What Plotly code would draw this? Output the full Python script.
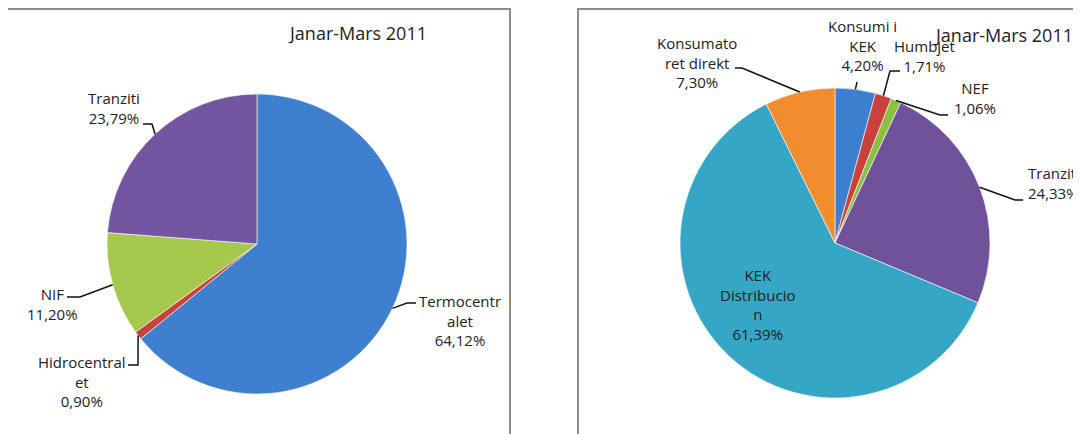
import math
import plotly.graph_objects as go

# ---------------- data ----------------
left_labels = ["Termocentralet", "Hidrocentralet", "NIF", "Tranziti"]
left_values = [64.12, 0.90, 11.20, 23.79]
left_text = ["Termocentr<br>alet<br>64,12%", "Hidrocentral<br>et<br>0,90%",
             "NIF<br>11,20%", "Tranziti<br>23,79%"]
left_colors = ["#3f7fcf", "#c8423c", "#a6c84c", "#7455a0"]

right_labels = ["Konsumi i KEK", "Humbjet", "NEF", "Tranziti",
                "KEK Distribucion", "Konsumatoret direkt"]
right_values = [4.20, 1.71, 1.06, 24.33, 61.39, 7.30]
right_text = ["Konsumi i<br>KEK<br>4,20%", "Humbjet<br>1,71%", "NEF<br>1,06%",
              "Tranziti<br>24,33%", "KEK<br>Distribucio<br>n<br>61,39%",
              "Konsumato<br>ret direkt<br>7,30%"]
right_colors = ["#3d7fcf", "#c8423c", "#8cc043", "#70529a", "#36a6c6", "#f08d2e"]

title_text = "Janar-Mars 2011"

# ---------------- layout helpers ----------------
W, H = 1081, 434
OFF = 8  # page body margin
FONT = "Open Sans"


def px(x):
    return (x - OFF) / W


def py(y):
    return 1 - (y - OFF) / H


def domain(cx, cy, r):
    return dict(x=[px(cx - r), px(cx + r)], y=[py(cy + r), py(cy - r)])


L_C, L_R = (257, 244), 150
R_C, R_R = (835, 243), 155

fig = go.Figure()
fig.add_trace(go.Pie(labels=left_labels, values=left_values, sort=False,
                     direction="clockwise", rotation=0, textinfo="none",
                     marker=dict(colors=left_colors,
                                 line=dict(color="rgba(255,255,255,0.6)", width=1)),
                     domain=domain(*L_C, L_R), showlegend=False, hoverinfo="label+percent"))
fig.add_trace(go.Pie(labels=right_labels, values=right_values, sort=False,
                     direction="clockwise", rotation=0, textinfo="none",
                     marker=dict(colors=right_colors,
                                 line=dict(color="rgba(255,255,255,0.6)", width=1)),
                     domain=domain(*R_C, R_R), showlegend=False, hoverinfo="label+percent"))


def edge_points(values, c, r):
    tot = sum(values)
    pts, cum = [], 0
    for v in values:
        a = math.radians((cum + v / 2) / tot * 360)
        pts.append((c[0] + r * math.sin(a), c[1] - r * math.cos(a)))
        cum += v
    return pts


# label placement (pixel centres) and leader elbows
left_place = [
    dict(x=460, y=320, leader=[(407, 303), (416, 303)]),
    dict(x=82, y=381, leader=[(138, 365), (128, 365)]),
    dict(x=52, y=304, leader=[(80, 297), (67, 297)]),
    dict(x=114, y=108, leader=[(152, 124), (143, 124)]),
]
right_place = [
    dict(x=862, y=45, leader=[(857, 82)]),
    dict(x=925, y=56, leader=[(890, 71), (900, 71)]),
    dict(x=975, y=98, leader=[(940, 115), (948, 115)]),
    dict(x=1026, y=183, anchor="left", leader=[(1015, 200), (1023, 200)]),
    dict(x=757, y=304, leader=None),
    dict(x=697, y=62, leader=[(742, 68), (735, 68)]),
]

annotations = []
shapes = []


def add_labels(texts, values, c, r, places):
    pts = edge_points(values, c, r)
    for t, p, e in zip(texts, places, pts):
        anchor = p.get("anchor", "center")
        annotations.append(dict(x=px(p["x"]), y=py(p["y"]), xref="paper", yref="paper",
                                text=t, showarrow=False, xanchor=anchor, yanchor="middle",
                                align=anchor if anchor != "center" else "center",
                                font=dict(family=FONT, size=15, color="#222222")))
        if p["leader"]:
            seq = [e] + p["leader"]
            path = "M {} {}".format(px(seq[0][0]), py(seq[0][1]))
            for q in seq[1:]:
                path += " L {} {}".format(px(q[0]), py(q[1]))
            shapes.append(dict(type="path", xref="paper", yref="paper", path=path,
                               line=dict(color="#111111", width=1.5)))


add_labels(left_text, left_values, L_C, L_R, left_place)
add_labels(right_text, right_values, R_C, R_R, right_place)

annotations.append(dict(x=px(357), y=py(33), xref="paper", yref="paper", text=title_text,
                        showarrow=False, xanchor="center", yanchor="middle",
                        font=dict(family=FONT, size=18, color="#222222")))
annotations.append(dict(x=px(932), y=py(35), xref="paper", yref="paper", text=title_text,
                        showarrow=False, xanchor="left", yanchor="middle",
                        font=dict(family=FONT, size=18, color="#222222")))

# chart frames
shapes.append(dict(type="rect", xref="paper", yref="paper", x0=px(7), x1=px(510),
                   y0=py(450), y1=py(9), line=dict(color="#8c8c8c", width=2),
                   layer="below"))
shapes.append(dict(type="rect", xref="paper", yref="paper", x0=px(578), x1=px(1100),
                   y0=py(450), y1=py(9), line=dict(color="#8c8c8c", width=2),
                   layer="below"))

fig.update_layout(width=W, height=H, margin=dict(l=0, r=0, t=0, b=0),
                  paper_bgcolor="white", plot_bgcolor="white",
                  annotations=annotations, shapes=shapes)

fig.write_html("out.html")
